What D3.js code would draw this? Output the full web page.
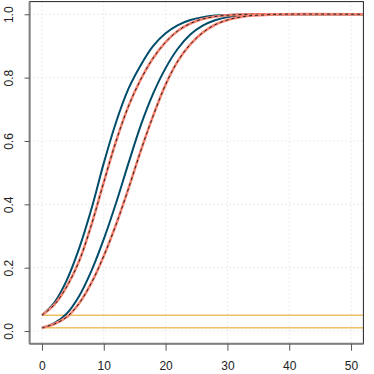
<!DOCTYPE html>
<html>
<head>
<meta charset="utf-8">
<script src="https://cdn.jsdelivr.net/npm/d3@7"></script>
<style>
  body { margin: 0; background: #fff; }
  svg { display: block; }
</style>
</head>
<body>
<div id="chart"></div>
<script>
var tValues = [0, 2, 4, 6, 8, 10, 12, 14, 16, 18, 20, 22, 24, 26, 28, 30, 32, 34, 36, 38, 52];

var solidA  = [0.05, 0.09, 0.16, 0.26, 0.385, 0.53, 0.66, 0.765, 0.84, 0.90, 0.94, 0.966, 0.982, 0.991, 0.996, 0.998, 0.999, 1, 1, 1, 1];
var dashedA = [0.05, 0.083, 0.14, 0.22, 0.335, 0.47, 0.60, 0.71, 0.795, 0.862, 0.912, 0.948, 0.971, 0.985, 0.993, 0.997, 0.999, 1, 1, 1, 1];
var solidB  = [0.01, 0.025, 0.055, 0.11, 0.19, 0.29, 0.405, 0.53, 0.65, 0.75, 0.83, 0.892, 0.936, 0.964, 0.981, 0.991, 0.996, 0.998, 1, 1, 1];
var dashedB = [0.01, 0.022, 0.044, 0.087, 0.152, 0.237, 0.337, 0.45, 0.57, 0.68, 0.778, 0.853, 0.905, 0.942, 0.967, 0.982, 0.991, 0.996, 0.998, 1, 1];

var hLevels = [0.05, 0.01];
var hSpan = [0, 52];

var xTicks = [0, 10, 20, 30, 40, 50];
var yTicks = [0, 0.2, 0.4, 0.6, 0.8, 1.0];

var width = 374, height = 374;

var x = d3.scaleLinear().domain([-2, 52]).range([29.6, 363.4]);
var y = d3.scaleLinear().domain([-0.04, 1.04]).range([343.7, 1.6]);

var svg = d3.select("#chart").append("svg")
  .attr("width", width)
  .attr("height", height)
  .style("font-family", "'Liberation Sans', Arial, sans-serif");

svg.append("clipPath").attr("id", "plotclip")
  .append("rect")
  .attr("x", x(-2)).attr("y", y(1.04))
  .attr("width", x(52) - x(-2)).attr("height", y(-0.04) - y(1.04));

// grid
var grid = svg.append("g")
  .attr("stroke", "#d6d6d6")
  .attr("stroke-width", 1)
  .attr("stroke-dasharray", "1,3");

grid.selectAll(".vg").data(xTicks).enter().append("line")
  .attr("x1", d => x(d)).attr("x2", d => x(d))
  .attr("y1", y(1.04)).attr("y2", y(-0.04));

grid.selectAll(".hg").data(yTicks).enter().append("line")
  .attr("x1", x(-2)).attr("x2", x(52))
  .attr("y1", d => y(d)).attr("y2", d => y(d));

var plot = svg.append("g").attr("clip-path", "url(#plotclip)");

// horizontal reference lines
plot.selectAll(".hl").data(hLevels).enter().append("line")
  .attr("x1", x(hSpan[0])).attr("x2", x(hSpan[1]))
  .attr("y1", d => y(d)).attr("y2", d => y(d))
  .attr("stroke", "#e3a20f")
  .attr("stroke-width", 1);

var line = d3.line()
  .x((d, i) => x(tValues[i]))
  .y(d => y(d))
  .curve(d3.curveCatmullRom.alpha(0.5));

// solid curves
[solidA, solidB].forEach(function(s){
  plot.append("path")
    .attr("d", line(s))
    .attr("fill", "none")
    .attr("stroke", "#004d6b")
    .attr("stroke-width", 2);
});

// dashed curves: salmon line with black dashes on top
[dashedA, dashedB].forEach(function(s){
  plot.append("path")
    .attr("d", line(s))
    .attr("fill", "none")
    .attr("stroke", "#f7826f")
    .attr("stroke-width", 2.6);
  plot.append("path")
    .attr("d", line(s))
    .attr("fill", "none")
    .attr("stroke", "#222")
    .attr("stroke-width", 1)
    .attr("stroke-dasharray", "3,3");
});

// box
svg.append("rect")
  .attr("x", x(-2)).attr("y", y(1.04))
  .attr("width", x(52) - x(-2)).attr("height", y(-0.04) - y(1.04))
  .attr("fill", "none")
  .attr("stroke", "#222")
  .attr("stroke-width", 1);

// axes
var xAxis = d3.axisBottom(x).tickValues(xTicks).tickSize(7).tickPadding(11)
  .tickFormat(d3.format("d"));
var yAxis = d3.axisLeft(y).tickValues(yTicks).tickSize(5).tickPadding(4)
  .tickFormat(d3.format(".1f"));

var gx = svg.append("g")
  .attr("transform", "translate(0," + y(-0.04) + ")")
  .call(xAxis);
var gy = svg.append("g")
  .attr("transform", "translate(" + x(-2) + ",0)")
  .call(yAxis);

[gx, gy].forEach(function(g){
  g.select(".domain").attr("stroke", "#808080").attr("stroke-width", 2);
  g.selectAll(".tick line").attr("stroke", "#555");
  g.selectAll(".tick text").attr("fill", "#222").style("font-size", "12px");
});

gx.select(".domain").attr("d", "M" + x(-2) + ",0H" + x(52));
gy.select(".domain").attr("d", "M0," + y(-0.04) + "V" + y(1.04));

// y labels rotated like base R
gy.selectAll(".tick text")
  .attr("transform", "rotate(-90)")
  .attr("x", 0)
  .attr("y", -17)
  .attr("dy", 0)
  .attr("text-anchor", "middle");
</script>
</body>
</html>
